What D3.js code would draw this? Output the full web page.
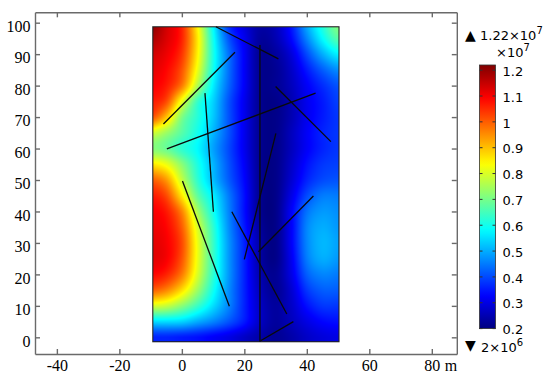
<!DOCTYPE html>
<html><head><meta charset="utf-8">
<script src="https://cdn.jsdelivr.net/npm/d3@7"></script>
<style>html,body{margin:0;padding:0;background:#fff;} svg{display:block}</style>
</head><body>
<svg id="chart" width="550" height="373"></svg>
<script>
// ---------------- data ----------------
const xTicks = [-40, -20, 0, 20, 40, 60, 80];
const yTicks = [0, 10, 20, 30, 40, 50, 60, 70, 80, 90, 100];
const cbTicks = [0.2, 0.3, 0.4, 0.5, 0.6, 0.7, 0.8, 0.9, 1, 1.1, 1.2];
const cbRange = [0.2, 1.22];          // x10^7
const maxLabel = "1.22";
const minLabel = "2";
const unitLabel = "m";

// domain of the model (m)
const domainX = [-9.3, 50.3];
const domainY = [-1.4, 98.7];

const xNodes = [-10, -5, 0, 5, 10, 15, 20, 25, 30, 35, 40, 45, 50];
const yNodes = [100, 95, 90, 85, 80, 75, 70, 65, 60, 55, 50, 45, 40, 35, 30, 25, 20, 15, 10, 5, 0];
const field = [
  [1.22, 1.14, 1.06, 0.84, 0.58, 0.37, 0.29, 0.24, 0.26, 0.35, 0.50, 0.62, 0.72],
  [1.18, 1.13, 1.06, 0.86, 0.60, 0.41, 0.31, 0.23, 0.25, 0.33, 0.46, 0.58, 0.67],
  [1.14, 1.11, 1.04, 0.85, 0.61, 0.44, 0.32, 0.22, 0.23, 0.29, 0.40, 0.50, 0.57],
  [1.12, 1.09, 1.01, 0.82, 0.60, 0.44, 0.32, 0.22, 0.22, 0.27, 0.35, 0.42, 0.47],
  [1.10, 1.07, 0.97, 0.76, 0.57, 0.43, 0.32, 0.22, 0.22, 0.26, 0.32, 0.37, 0.41],
  [1.07, 1.02, 0.82, 0.64, 0.54, 0.41, 0.31, 0.22, 0.21, 0.25, 0.31, 0.35, 0.39],
  [1.02, 0.90, 0.71, 0.62, 0.53, 0.41, 0.31, 0.22, 0.21, 0.25, 0.31, 0.35, 0.38],
  [0.80, 0.74, 0.67, 0.60, 0.51, 0.41, 0.31, 0.22, 0.21, 0.26, 0.32, 0.36, 0.38],
  [0.72, 0.69, 0.63, 0.58, 0.49, 0.40, 0.31, 0.22, 0.21, 0.26, 0.32, 0.36, 0.38],
  [0.86, 0.82, 0.72, 0.61, 0.51, 0.41, 0.32, 0.22, 0.21, 0.27, 0.34, 0.38, 0.39],
  [1.00, 0.94, 0.78, 0.63, 0.52, 0.42, 0.33, 0.22, 0.21, 0.28, 0.36, 0.40, 0.41],
  [1.07, 1.02, 0.86, 0.68, 0.57, 0.45, 0.34, 0.22, 0.21, 0.30, 0.40, 0.45, 0.45],
  [1.10, 1.07, 0.96, 0.75, 0.60, 0.46, 0.34, 0.22, 0.21, 0.32, 0.44, 0.48, 0.47],
  [1.11, 1.09, 1.00, 0.80, 0.63, 0.47, 0.35, 0.23, 0.21, 0.32, 0.46, 0.50, 0.48],
  [1.12, 1.10, 1.02, 0.82, 0.64, 0.48, 0.36, 0.24, 0.21, 0.32, 0.46, 0.51, 0.49],
  [1.12, 1.10, 1.01, 0.82, 0.64, 0.48, 0.36, 0.24, 0.21, 0.31, 0.45, 0.50, 0.48],
  [1.09, 1.06, 0.97, 0.80, 0.63, 0.48, 0.36, 0.25, 0.22, 0.30, 0.42, 0.46, 0.45],
  [1.00, 0.96, 0.87, 0.74, 0.60, 0.47, 0.36, 0.26, 0.22, 0.28, 0.38, 0.42, 0.42],
  [0.80, 0.78, 0.72, 0.64, 0.55, 0.46, 0.36, 0.27, 0.23, 0.27, 0.34, 0.38, 0.38],
  [0.55, 0.55, 0.54, 0.50, 0.46, 0.41, 0.35, 0.27, 0.23, 0.26, 0.30, 0.33, 0.34],
  [0.36, 0.36, 0.35, 0.34, 0.32, 0.30, 0.27, 0.24, 0.22, 0.24, 0.27, 0.29, 0.30]
];

// fracture segments [x1, y1, x2, y2] (m)
const fractures = [
  [10.9, 98.7, 30.9, 88.5],
  [17.0, 90.6, -5.9, 67.8],
  [7.4, 77.6, 10.1, 39.9],
  [42.8, 77.6, -4.8, 59.9],
  [30.0, 79.7, 47.7, 62.2],
  [25.0, 92.9, 25.0, -1.4],
  [30.1, 64.8, 20.0, 24.8],
  [42.1, 44.9, 24.5, 27.2],
  [16.0, 39.9, 33.6, 7.4],
  [0.2, 49.7, 15.2, 9.9],
  [35.7, 5.0, 25.2, -1.1]
];

// ---------------- drawing ----------------
const svg = d3.select("#chart");
svg.append("rect").attr("width", 550).attr("height", 373).attr("fill", "#fff");

const x = d3.scaleLinear().domain([-47, 88]).range([35, 456.8]);
const y = d3.scaleLinear().domain([-5.3, 103.3]).range([354, 12.3]);

function jet(t) {
  t = Math.max(0, Math.min(1, t));
  const c = v => Math.round(255 * Math.max(0, Math.min(1, v)));
  return [c(1.5 - Math.abs(4 * t - 3)), c(1.5 - Math.abs(4 * t - 2)), c(1.5 - Math.abs(4 * t - 1))];
}
const tScale = d3.scaleLinear().domain(cbRange).range([0, 1]).clamp(true);

const xi = d3.scaleLinear().domain(d3.extent(xNodes)).range([0, xNodes.length - 1]).clamp(true);
const yi = d3.scaleLinear().domain([yNodes[0], yNodes[yNodes.length - 1]]).range([0, yNodes.length - 1]).clamp(true);
function cr(p0, p1, p2, p3, t) {
  return 0.5 * ((2 * p1) + (-p0 + p2) * t + (2 * p0 - 5 * p1 + 4 * p2 - p3) * t * t + (-p0 + 3 * p1 - 3 * p2 + p3) * t * t * t);
}
const nx = xNodes.length, ny = yNodes.length;
const cl = (v, n) => Math.max(0, Math.min(n - 1, v));
function fieldAt(xd, yd) {
  const fx = xi(xd), fy = yi(yd);
  const ix = Math.min(Math.floor(fx), nx - 2), iy = Math.min(Math.floor(fy), ny - 2);
  const tx = fx - ix, ty = fy - iy;
  const rows = [];
  for (let m = -1; m <= 2; m++) {
    const r = field[cl(iy + m, ny)];
    rows.push(cr(r[cl(ix - 1, nx)], r[cl(ix, nx)], r[cl(ix + 1, nx)], r[cl(ix + 2, nx)], tx));
  }
  return cr(rows[0], rows[1], rows[2], rows[3], ty);
}

// heat surface
const px0 = Math.round(x(domainX[0])), px1 = Math.round(x(domainX[1]));
const py0 = Math.round(y(domainY[1])), py1 = Math.round(y(domainY[0]));
const cw = px1 - px0, ch = py1 - py0;
const canvas = document.createElement("canvas");
canvas.width = cw; canvas.height = ch;
const ctx = canvas.getContext("2d");
const img = ctx.createImageData(cw, ch);
for (let j = 0; j < ch; j++) {
  const yd = y.invert(py0 + j + 0.5);
  for (let i = 0; i < cw; i++) {
    const xd = x.invert(px0 + i + 0.5);
    const c = jet(tScale(fieldAt(xd, yd)));
    const k = 4 * (j * cw + i);
    img.data[k] = c[0]; img.data[k + 1] = c[1]; img.data[k + 2] = c[2]; img.data[k + 3] = 255;
  }
}
ctx.putImageData(img, 0, 0);
svg.append("image").attr("x", px0).attr("y", py0).attr("width", cw).attr("height", ch)
  .attr("preserveAspectRatio", "none").attr("href", canvas.toDataURL());

svg.append("rect").attr("x", x(domainX[0])).attr("y", y(domainY[1]))
  .attr("width", x(domainX[1]) - x(domainX[0])).attr("height", y(domainY[0]) - y(domainY[1]))
  .attr("fill", "none").attr("stroke", "#222").attr("stroke-width", 1.1);

// fractures
svg.append("g").selectAll("line").data(fractures).join("line")
  .attr("x1", d => x(d[0])).attr("y1", d => y(d[1]))
  .attr("x2", d => x(d[2])).attr("y2", d => y(d[3]))
  .attr("stroke", "#0a0a0a").attr("stroke-width", 1.3);

// axes frame
const axisColor = "#6a6a6a";
const serifName = "Liberation Serif";
const fmt = d => String(d);
function styleAxis(g) {
  g.attr("font-family", serifName).attr("font-size", 16);
  g.select(".domain").attr("stroke", axisColor).attr("stroke-width", 1.4);
  g.selectAll(".tick line").attr("stroke", axisColor).attr("stroke-width", 1.4);
  g.selectAll("text").attr("fill", "#000").attr("font-family", serifName).attr("font-size", 16);
}
const gb = svg.append("g").attr("transform", `translate(0,${y.range()[0]})`)
  .call(d3.axisBottom(x).tickValues(xTicks).tickFormat(fmt).tickSize(-5).tickSizeOuter(0).tickPadding(6));
styleAxis(gb);
gb.selectAll("text").attr("y", 5.5).attr("dy", "0.71em");
const gt = svg.append("g").attr("transform", `translate(0,${y.range()[1]})`)
  .call(d3.axisTop(x).tickValues(xTicks).tickSize(-5).tickSizeOuter(0).tickFormat(""));
styleAxis(gt);
const gl = svg.append("g").attr("transform", `translate(${x.range()[0]},0)`)
  .call(d3.axisLeft(y).tickValues(yTicks).tickFormat(fmt).tickSize(-5).tickSizeOuter(0).tickPadding(4));
styleAxis(gl);
gl.selectAll("text").attr("x", -4.5).attr("dy", "0.55em");
const gr = svg.append("g").attr("transform", `translate(${x.range()[1]},0)`)
  .call(d3.axisRight(y).tickValues(yTicks).tickSize(-5).tickSizeOuter(0).tickFormat(""));
styleAxis(gr);

svg.append("text").attr("x", 451).attr("y", 370.5).attr("text-anchor", "middle")
  .attr("font-family", serifName).attr("font-size", 16).text(unitLabel);

// colour bar
const sans = "DejaVu Sans";
const cb = d3.scaleLinear().domain(cbRange).range([328.6, 65]);
const cbX = 479.5, cbW = 16;
const defs = svg.append("defs");
const grad = defs.append("linearGradient").attr("id", "jetgrad")
  .attr("x1", 0).attr("y1", 1).attr("x2", 0).attr("y2", 0);
d3.range(0, 1.0001, 0.02).forEach(t => {
  const c = jet(t);
  grad.append("stop").attr("offset", t).attr("stop-color", `rgb(${c[0]},${c[1]},${c[2]})`);
});
svg.append("rect").attr("x", cbX).attr("y", cb(cbRange[1])).attr("width", cbW)
  .attr("height", cb(cbRange[0]) - cb(cbRange[1])).attr("fill", "url(#jetgrad)")
  .attr("stroke", "#333").attr("stroke-width", 0.8);
const cbt = svg.append("g");
cbt.selectAll("line.l").data(cbTicks).join("line").attr("class", "l")
  .attr("x1", cbX).attr("x2", cbX + 3).attr("y1", d => cb(d)).attr("y2", d => cb(d))
  .attr("stroke", "#333").attr("stroke-width", 1);
cbt.selectAll("line.r").data(cbTicks).join("line").attr("class", "r")
  .attr("x1", cbX + cbW - 3).attr("x2", cbX + cbW).attr("y1", d => cb(d)).attr("y2", d => cb(d))
  .attr("stroke", "#333").attr("stroke-width", 1);
cbt.selectAll("text").data(cbTicks).join("text")
  .attr("x", cbX + cbW + 7).attr("y", d => cb(d) + 1).attr("dy", "0.36em")
  .attr("font-family", sans).attr("font-size", 13).attr("fill", "#000")
  .text(d => String(d));

// max / min annotations
svg.append("text").attr("x", 465).attr("y", 39.5).attr("font-family", sans).attr("font-size", 14).text("\u25B2");
const tmax = svg.append("text").attr("x", 480).attr("y", 39.5).attr("font-family", sans).attr("font-size", 13);
tmax.append("tspan").text(maxLabel + "\u00D710");
tmax.append("tspan").attr("dy", -6).attr("font-size", 10).text("7");
const tmul = svg.append("text").attr("x", 496).attr("y", 57).attr("font-family", sans).attr("font-size", 13);
tmul.append("tspan").text("\u00D710");
tmul.append("tspan").attr("dy", -6).attr("font-size", 10).text("7");
svg.append("text").attr("x", 465).attr("y", 350).attr("font-family", sans).attr("font-size", 14).text("\u25BC");
const tmin = svg.append("text").attr("x", 481).attr("y", 351.5).attr("font-family", sans).attr("font-size", 13);
tmin.append("tspan").text(minLabel + "\u00D710");
tmin.append("tspan").attr("dy", -6).attr("font-size", 10).text("6");
</script>
</body></html>
